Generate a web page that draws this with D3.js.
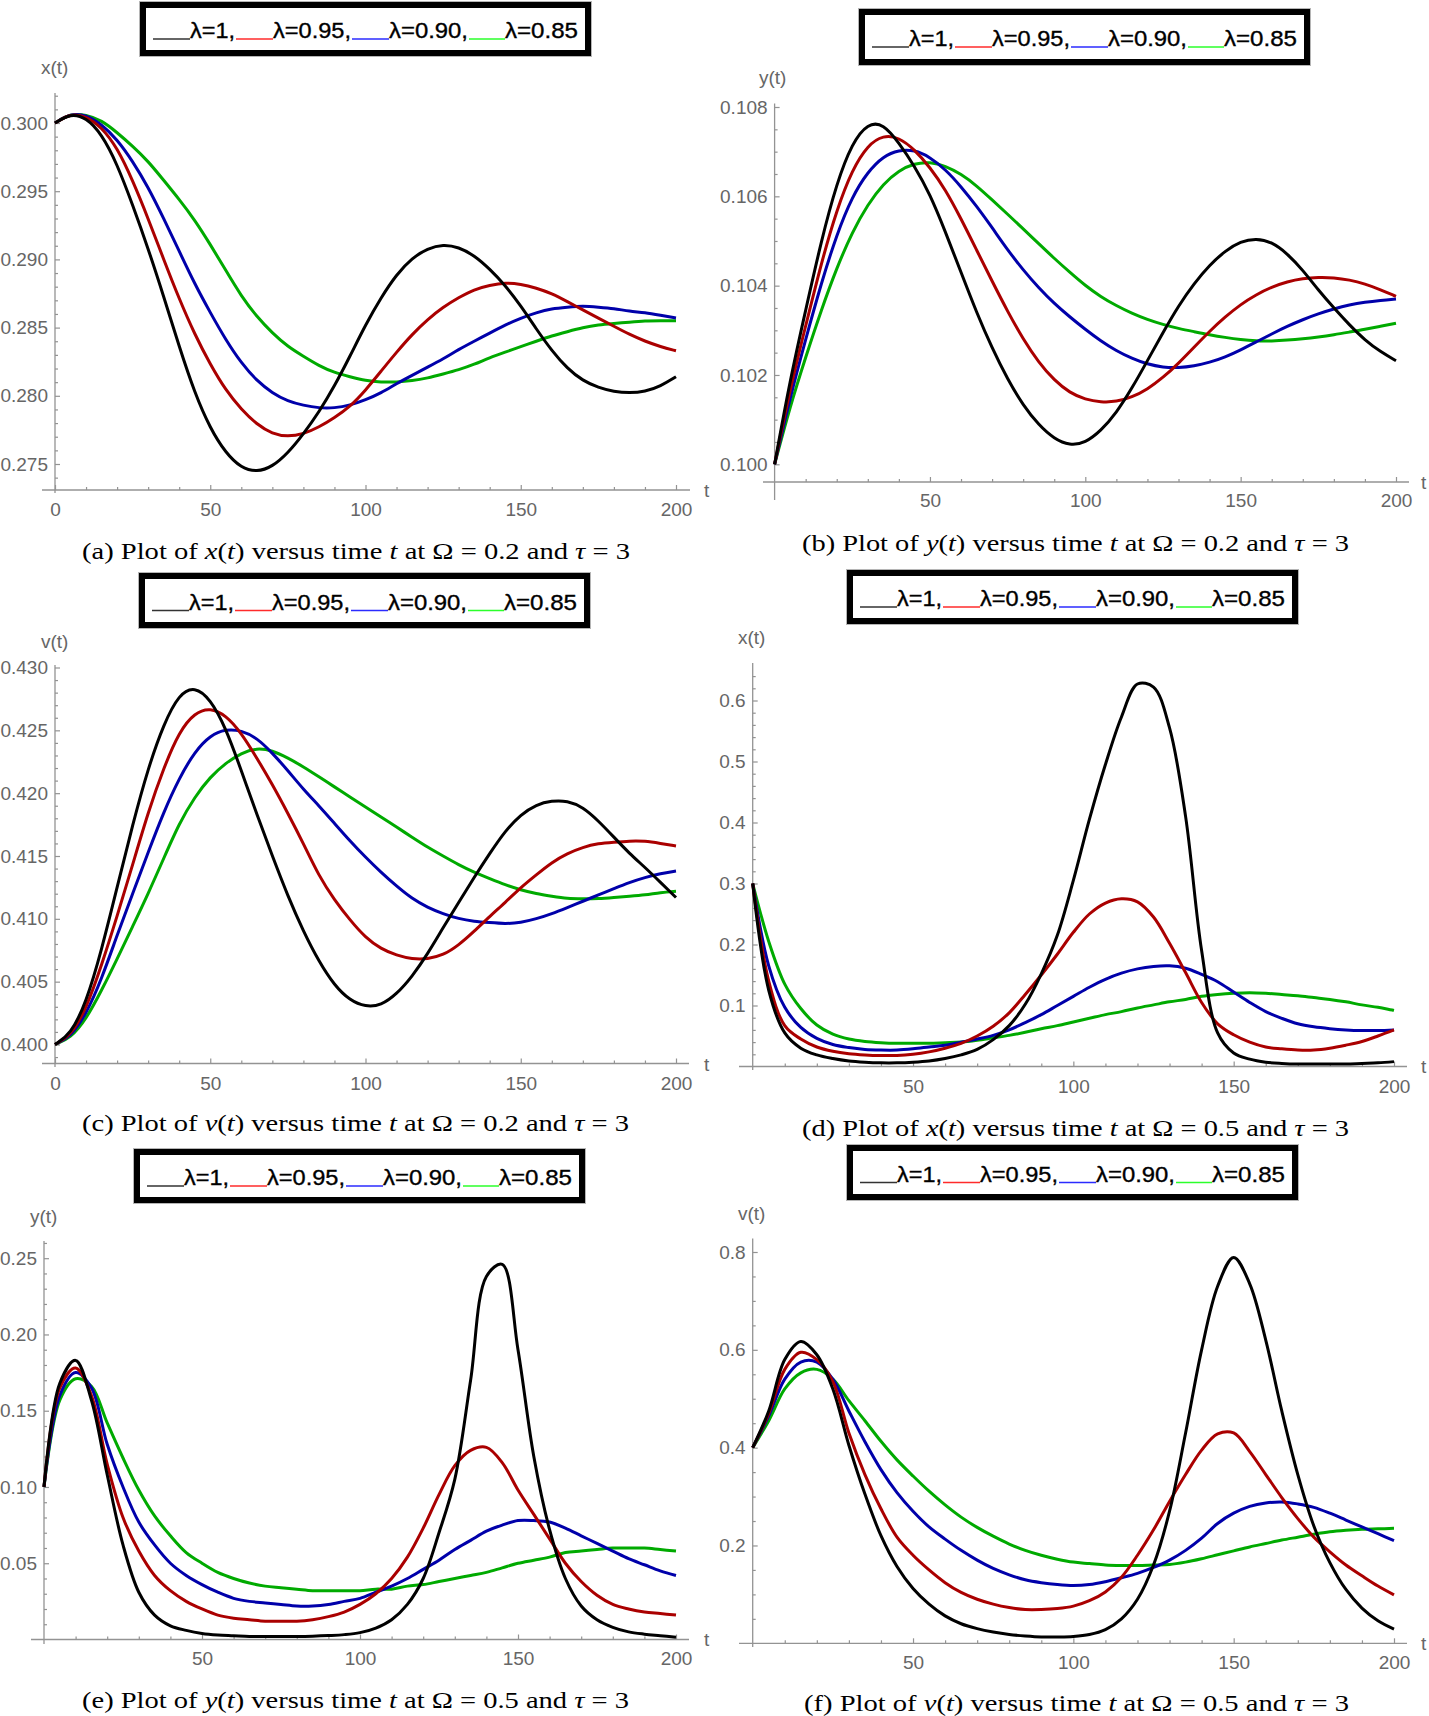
<!DOCTYPE html>
<html><head><meta charset="utf-8">
<script src="https://cdn.jsdelivr.net/npm/d3@7"></script>
<style>
body{margin:0;background:#fff;}
svg{display:block;}
</style></head><body>
<svg id="chart" width="1429" height="1716"></svg>
<script>
// ---------- data ----------
const tSamples = [0,5,10,15,20,25,30,35,40,45,50,55,60,65,70,75,80,85,90,95,100,105,110,115,120,125,130,135,140,145,150,155,160,165,170,175,180,185,190,195,200];
const legendLabels = ["λ=1,","λ=0.95,","λ=0.90,","λ=0.85"];

// (a) x(t), Omega=0.2
const aBlack = [.3000,.3007,.3004,.2992,.2970,.2940,.2908,.2873,.2836,.2802,.2776,.2758,.2747,.2744,.2748,.2758,.2772,.2788,.2807,.2829,.2852,.2872,.2889,.2901,.2908,.2911,.2909,.2903,.2893,.2881,.2866,.2849,.2833,.2820,.2811,.2806,.2803,.2802,.2803,.2807,.2814];
const aRed   = [.3000,.3007,.3005,.2997,.2982,.2958,.2930,.2900,.2871,.2845,.2823,.2804,.2790,.2779,.2772,.2770,.2772,.2777,.2784,.2792,.2804,.2818,.2832,.2845,.2856,.2865,.2872,.2878,.2881,.2883,.2882,.2879,.2875,.2869,.2863,.2857,.2851,.2845,.2840,.2836,.2833];
const aBlue  = [.3000,.3007,.3006,.2999,.2988,.2972,.2953,.2930,.2906,.2882,.2861,.2841,.2824,.2811,.2802,.2796,.2793,.2791,.2791,.2793,.2797,.2802,.2809,.2815,.2821,.2827,.2834,.2840,.2846,.2852,.2857,.2861,.2864,.2865,.2866,.2865,.2864,.2862,.2861,.2859,.2857];
const aGreen = [.3000,.3007,.3006,.3002,.2993,.2983,.2972,.2958,.2944,.2929,.2911,.2892,.2873,.2858,.2846,.2836,.2829,.2822,.2817,.2814,.2811,.2810,.2810,.2811,.2813,.2816,.2819,.2823,.2828,.2832,.2836,.2840,.2844,.2847,.2850,.2852,.2853,.2854,.2855,.2855,.2855];

// (b) y(t), Omega=0.2
const bBlack = [.10000,.10190,.10345,.10500,.10630,.10720,.10764,.10763,.10720,.10668,.10605,.10520,.10430,.10340,.10260,.10190,.10132,.10088,.10057,.10042,.10048,.10075,.10115,.10170,.10232,.10295,.10355,.10405,.10446,.10478,.10499,.10506,.10498,.10472,.10435,.10390,.10350,.10312,.10278,.10252,.10232];
const bRed   = [.10000,.10170,.10310,.10450,.10570,.10660,.10715,.10737,.10732,.10705,.10665,.10615,.10550,.10480,.10410,.10342,.10280,.10228,.10188,.10160,.10145,.10139,.10140,.10150,.10168,.10194,.10226,.10262,.10298,.10330,.10358,.10380,.10397,.10409,.10416,.10419,.10418,.10413,.10404,.10391,.10376];
const bBlue  = [.10000,.10150,.10280,.10405,.10515,.10600,.10655,.10690,.10704,.10704,.10688,.10660,.10622,.10578,.10530,.10480,.10435,.10395,.10360,.10330,.10302,.10276,.10254,.10237,.10224,.10217,.10216,.10220,.10228,.10240,.10256,.10274,.10292,.10309,.10324,.10337,.10348,.10357,.10363,.10367,.10370];
const bGreen = [.10000,.10130,.10240,.10345,.10440,.10520,.10582,.10628,.10658,.10674,.10677,.10668,.10650,.10624,.10592,.10560,.10527,.10494,.10461,.10430,.10400,.10375,.10355,.10338,.10324,.10313,.10304,.10297,.10290,.10284,.10279,.10276,.10276,.10278,.10281,.10285,.10290,.10296,.10302,.10309,.10316];

// (c) v(t), Omega=0.2
const cBlack = [.4000,.4008,.4033,.4075,.4125,.4175,.4220,.4255,.4279,.4285,.4275,.4252,.4218,.4183,.4150,.4118,.4090,.4066,.4047,.4035,.4030,.4031,.4040,.4054,.4072,.4093,.4113,.4133,.4152,.4170,.4183,.4191,.4194,.4194,.4189,.4178,.4165,.4152,.4141,.4129,.4117];
const cRed   = [.4000,.4007,.4028,.4063,.4102,.4143,.4185,.4220,.4249,.4264,.4268,.4262,.4248,.4228,.4207,.4184,.4160,.4134,.4115,.4099,.4085,.4076,.4071,.4068,.4068,.4071,.4079,.4090,.4102,.4113,.4125,.4135,.4145,.4152,.4157,.4160,.4161,.4162,.4162,.4160,.4158];
const cBlue  = [.4000,.4006,.4024,.4052,.4087,.4120,.4153,.4185,.4212,.4233,.4246,.4251,.4250,.4244,.4232,.4218,.4203,.4190,.4176,.4162,.4149,.4137,.4126,.4116,.4109,.4104,.4100,.4098,.4097,.4096,.4097,.4100,.4104,.4109,.4114,.4119,.4124,.4129,.4133,.4136,.4138];
const cGreen = [.4000,.4005,.4020,.4043,.4068,.4094,.4120,.4148,.4176,.4197,.4213,.4224,.4232,.4236,.4234,.4228,.4221,.4213,.4205,.4197,.4189,.4181,.4173,.4165,.4157,.4150,.4143,.4137,.4132,.4127,.4123,.4120,.4118,.4116,.4116,.4116,.4117,.4118,.4119,.4121,.4122];

// (d) x(t), Omega=0.5
const dBlack = [.300,.125,.055,.030,.019,.013,.009,.007,.006,.006,.007,.009,.013,.019,.028,.044,.067,.102,.152,.215,.305,.405,.495,.573,.627,.622,.555,.410,.190,.055,.022,.012,.007,.005,.004,.004,.004,.004,.005,.006,.008];
const dRed   = [.300,.140,.067,.045,.032,.025,.021,.019,.018,.018,.020,.024,.030,.038,.050,.066,.088,.118,.150,.184,.220,.250,.268,.275,.270,.245,.202,.154,.105,.070,.052,.040,.032,.029,.027,.027,.030,.035,.041,.050,.060];
const dBlue  = [.300,.165,.097,.064,.046,.036,.031,.028,.027,.027,.029,.032,.035,.040,.045,.051,.060,.072,.085,.100,.115,.130,.143,.153,.160,.164,.165,.161,.151,.139,.122,.105,.090,.079,.070,.065,.062,.060,.059,.059,.060];
const dGreen = [.300,.205,.135,.095,.068,.053,.045,.041,.039,.038,.038,.038,.039,.040,.043,.047,.051,.056,.062,.067,.073,.079,.085,.090,.096,.101,.106,.110,.115,.118,.120,.121,.120,.118,.116,.113,.110,.106,.101,.097,.092];

// (e) y(t), Omega=0.5
const eBlack = [.100,.168,.183,.157,.108,.062,.031,.016,.009,.006,.004,.003,.0025,.002,.002,.002,.002,.0022,.0026,.0032,.0045,.0075,.013,.023,.040,.070,.105,.170,.238,.246,.190,.120,.072,.040,.022,.013,.008,.005,.0035,.0025,.0015];
const eRed   = [.100,.165,.178,.160,.115,.080,.058,.042,.032,.025,.020,.016,.014,.013,.012,.012,.012,.013,.015,.018,.023,.030,.040,.054,.073,.095,.114,.124,.126,.116,.098,.082,.066,.050,.038,.029,.023,.020,.018,.017,.016];
const eBlue  = [.100,.160,.175,.165,.128,.100,.077,.062,.050,.042,.036,.031,.027,.025,.024,.023,.022,.022,.023,.025,.027,.031,.035,.040,.046,.052,.059,.065,.071,.075,.078,.078,.077,.073,.068,.063,.058,.053,.049,.045,.042];
const eGreen = [.100,.157,.171,.166,.142,.119,.098,.081,.068,.057,.050,.044,.040,.037,.035,.034,.033,.032,.032,.032,.032,.033,.033,.035,.036,.038,.040,.042,.044,.047,.050,.052,.054,.057,.058,.059,.060,.060,.060,.059,.058];

// (f) v(t), Omega=0.5
const fBlack = [.400,.475,.580,.617,.590,.520,.405,.305,.220,.157,.112,.080,.056,.040,.030,.023,.018,.015,.013,.013,.014,.018,.028,.050,.090,.160,.270,.430,.600,.730,.789,.735,.620,.475,.345,.240,.165,.110,.072,.046,.029];
const fRed   = [.400,.470,.560,.595,.580,.535,.430,.345,.275,.217,.180,.150,.124,.104,.090,.080,.073,.069,.069,.071,.076,.087,.105,.135,.180,.232,.290,.345,.395,.428,.430,.392,.345,.298,.255,.217,.187,.160,.138,.117,.099];
const fBlue  = [.400,.465,.540,.575,.575,.540,.475,.412,.355,.308,.270,.238,.213,.190,.170,.153,.140,.130,.124,.120,.118,.120,.126,.134,.143,.155,.170,.190,.215,.245,.266,.280,.287,.289,.285,.278,.266,.252,.238,.224,.210];
const fGreen = [.400,.455,.520,.553,.560,.540,.496,.455,.413,.375,.342,.311,.283,.258,.237,.219,.203,.190,.180,.172,.166,.163,.160,.159,.159,.160,.161,.166,.173,.181,.189,.197,.204,.211,.217,.223,.228,.231,.233,.234,.235];

// tick labels
const xTicksWithZero = [0,50,100,150,200];
const xTicksNoZero = [50,100,150,200];
const aYTicks = [0.275,0.280,0.285,0.290,0.295,0.300];
const bYTicks = [0.100,0.102,0.104,0.106,0.108];
const cYTicks = [0.400,0.405,0.410,0.415,0.420,0.425,0.430];
const dYTicks = [0.1,0.2,0.3,0.4,0.5,0.6];
const eYTicks = [0.05,0.10,0.15,0.20,0.25];
const fYTicks = [0.2,0.4,0.6,0.8];

// ---------- styles / layout ----------
const curveColors = ["#000000","#aa0000","#0000aa","#00aa00"];
const swatchColors = ["#333333","#ff2b2b","#2b2bff","#2bff2b"];
const axisColor = "#939393";
const labelColor = "#666666";
const sansFont = "'Liberation Sans', Arial, Helvetica, sans-serif";
const serifFont = "'Liberation Serif', 'Times New Roman', serif";

const panels = [
 {key:"a", series:[aBlack,aRed,aBlue,aGreen], yTicks:aYTicks, fmt:".3f", minor:0.001, xTicks:xTicksWithZero, smooth:true,
  x0:55, x1:676, yDom:[0.275,0.300], yRng:[464,123], axY:490, yTop:93, yBot:493, axL:42, axR:690, tickBase:516,
  ylab:"x(t)", ylabX:41, ylabY:74, tX:704, tY:497, capY:559, capX0:82, capX1:630, legX:140, legY:2, legH:54,
  cap:["(a) Plot of ","x","(","t",") versus time ","t"," at Ω = 0.2 and ","τ"," = 3"]},
 {key:"b", series:[bBlack,bRed,bBlue,bGreen], yTicks:bYTicks, fmt:".3f", minor:0.0005, xTicks:xTicksNoZero, smooth:true,
  x0:774.6, x1:1396, yDom:[0.100,0.108], yRng:[464.3,107], axY:482, yTop:103.6, yBot:500, axL:763, axR:1409, tickBase:507,
  ylab:"y(t)", ylabX:759, ylabY:84, tX:1421, tY:489, capY:551, capX0:802, capX1:1349, legX:859, legY:9, legH:56,
  cap:["(b) Plot of ","y","(","t",") versus time ","t"," at Ω = 0.2 and ","τ"," = 3"]},
 {key:"c", series:[cBlack,cRed,cBlue,cGreen], yTicks:cYTicks, fmt:".3f", minor:0.001, xTicks:xTicksWithZero, smooth:true,
  x0:55, x1:676, yDom:[0.400,0.430], yRng:[1044.5,667.5], axY:1063.5, yTop:665, yBot:1067, axL:42, axR:689, tickBase:1090,
  ylab:"v(t)", ylabX:41, ylabY:648, tX:704, tY:1071, capY:1131, capX0:82, capX1:629, legX:139, legY:573, legH:55,
  cap:["(c) Plot of ","v","(","t",") versus time ","t"," at Ω = 0.2 and ","τ"," = 3"]},
 {key:"d", series:[dBlack,dRed,dBlue,dGreen], yTicks:dYTicks, fmt:".1f", minor:0.02, xTicks:xTicksNoZero, smooth:false,
  x0:752.7, x1:1394, yDom:[0,0.6], yRng:[1066.5,700.5], axY:1066.5, yTop:663, yBot:1070, axL:739, axR:1407, tickBase:1093,
  ylab:"x(t)", ylabX:738, ylabY:644, tX:1421, tY:1073, capY:1136, capX0:802, capX1:1349, legX:847, legY:570, legH:54,
  cap:["(d) Plot of ","x","(","t",") versus time ","t"," at Ω = 0.5 and ","τ"," = 3"]},
 {key:"e", series:[eBlack,eRed,eBlue,eGreen], yTicks:eYTicks, fmt:".2f", minor:0.01, xTicks:xTicksNoZero, smooth:false,
  x0:44, x1:676, yDom:[0,0.25], yRng:[1639.5,1258.2], axY:1639.5, yTop:1241, yBot:1644, axL:31, axR:689, tickBase:1665,
  ylab:"y(t)", ylabX:30, ylabY:1223, tX:704, tY:1646, capY:1708, capX0:82, capX1:629, legX:134, legY:1149, legH:54,
  cap:["(e) Plot of ","y","(","t",") versus time ","t"," at Ω = 0.5 and ","τ"," = 3"]},
 {key:"f", series:[fBlack,fRed,fBlue,fGreen], yTicks:fYTicks, fmt:".1f", minor:0.05, xTicks:xTicksNoZero, smooth:false,
  x0:752.7, x1:1394, yDom:[0,0.8], yRng:[1643.3,1252], axY:1643.3, yTop:1238.5, yBot:1647, axL:739, axR:1407, tickBase:1669,
  ylab:"v(t)", ylabX:738, ylabY:1220, tX:1421, tY:1650, capY:1711, capX0:804, capX1:1349, legX:847, legY:1145, legH:55,
  cap:["(f) Plot of ","v","(","t",") versus time ","t"," at Ω = 0.5 and ","τ"," = 3"]}
];

// legend inner layout (relative to box)
const legLineX = [[13,50],[96,133],[212,249],[329,365]];
const legTextX = [50,133,249,365];
const legTextW = [45,78,79,73];

const svg = d3.select("#chart");

function drawLegend(p){
  const L = svg.append("g").attr("transform",`translate(${p.legX},${p.legY})`);
  L.append("rect").attr("x",-0.5).attr("y",-0.5).attr("width",452).attr("height",p.legH+1)
    .attr("fill","none").attr("stroke","#b5b5b5").attr("stroke-width",1);
  L.append("rect").attr("x",3).attr("y",3).attr("width",445).attr("height",p.legH-6)
    .attr("fill","#fff").attr("stroke","#000").attr("stroke-width",6);
  const base = p.legH/2 + 9;
  legendLabels.forEach((lab,i)=>{
    L.append("line").attr("x1",legLineX[i][0]).attr("x2",legLineX[i][1])
      .attr("y1",base+1).attr("y2",base+1).attr("stroke",swatchColors[i]).attr("stroke-width",1.5);
    L.append("text").attr("x",legTextX[i]).attr("y",base).text(lab)
      .attr("font-family",sansFont).attr("font-size",22).attr("fill","#000")
      .attr("stroke","#000").attr("stroke-width",0.35)
      .attr("textLength",legTextW[i]).attr("lengthAdjust","spacingAndGlyphs");
  });
}

function drawPanel(p){
  const x = d3.scaleLinear().domain([0,200]).range([p.x0,p.x1]);
  const y = d3.scaleLinear().domain(p.yDom).range(p.yRng);
  const g = svg.append("g");

  g.append("line").attr("x1",p.axL).attr("x2",p.axR).attr("y1",p.axY).attr("y2",p.axY)
    .attr("stroke",axisColor).attr("stroke-width",1.3);
  g.append("line").attr("x1",p.x0).attr("x2",p.x0).attr("y1",p.yTop).attr("y2",p.yBot)
    .attr("stroke",axisColor).attr("stroke-width",1.3);

  const fontSize = 19;
  const xa = g.append("g").attr("transform",`translate(0,${p.axY})`)
    .call(d3.axisBottom(x).tickValues(p.xTicks).tickSize(-5).tickSizeOuter(0)
      .tickPadding(p.tickBase - p.axY - 0.72*fontSize).tickFormat(d3.format("d")));
  const xMinor = d3.range(10,200,10).filter(v=>v%50!==0);
  const xm = g.append("g").attr("transform",`translate(0,${p.axY})`)
    .call(d3.axisBottom(x).tickValues(xMinor).tickSize(-3).tickSizeOuter(0).tickFormat(""));

  const ya = g.append("g").attr("transform",`translate(${p.x0},0)`)
    .call(d3.axisLeft(y).tickValues(p.yTicks).tickSize(-5).tickSizeOuter(0)
      .tickPadding(7).tickFormat(d3.format(p.fmt)));
  const vTop = y.invert(p.yTop+1), vBot = y.invert(p.axY-3);
  const yMinor = [];
  const n0 = Math.ceil(vBot/p.minor - 1e-6), n1 = Math.floor(vTop/p.minor + 1e-6);
  for(let k=n0;k<=n1;k++){
    const v = k*p.minor;
    if(!p.yTicks.some(t=>Math.abs(t-v)<p.minor*0.01)) yMinor.push(v);
  }
  const ym = g.append("g").attr("transform",`translate(${p.x0},0)`)
    .call(d3.axisLeft(y).tickValues(yMinor).tickSize(-3).tickSizeOuter(0).tickFormat(""));

  [xa,xm,ya,ym].forEach(a=>{
    a.select(".domain").remove();
    a.selectAll(".tick line").attr("stroke",axisColor).attr("stroke-width",1.2);
    a.selectAll(".tick text").attr("fill",labelColor).attr("font-size",fontSize).attr("font-family",sansFont);
  });
  xa.selectAll(".tick text").attr("dy","0.72em");

  g.append("text").attr("x",p.ylabX).attr("y",p.ylabY).text(p.ylab)
    .attr("font-family",sansFont).attr("font-size",fontSize).attr("fill",labelColor);
  g.append("text").attr("x",p.tX).attr("y",p.tY).text("t")
    .attr("font-family",sansFont).attr("font-size",fontSize).attr("fill",labelColor);

  const line = d3.line().x((d,i)=>x(tSamples[i])).y(d=>y(d))
    .curve(p.smooth ? d3.curveBasis : d3.curveCatmullRom.alpha(0.5));
  [3,2,1,0].forEach(i=>{
    g.append("path").attr("d",line(p.series[i])).attr("fill","none")
      .attr("stroke",curveColors[i]).attr("stroke-width",3).attr("stroke-linejoin","round");
  });

  const cap = g.append("text").attr("x",p.capX0).attr("y",p.capY)
    .attr("font-family",serifFont).attr("font-size",23).attr("fill","#000")
    .attr("textLength",p.capX1-p.capX0).attr("lengthAdjust","spacingAndGlyphs");
  p.cap.forEach((s,i)=>{
    const ts = cap.append("tspan").text(s);
    if(i===1||i===3||i===5||i===7) ts.attr("font-style","italic");
  });

  drawLegend(p);
}

panels.forEach(drawPanel);
</script>
</body></html>
